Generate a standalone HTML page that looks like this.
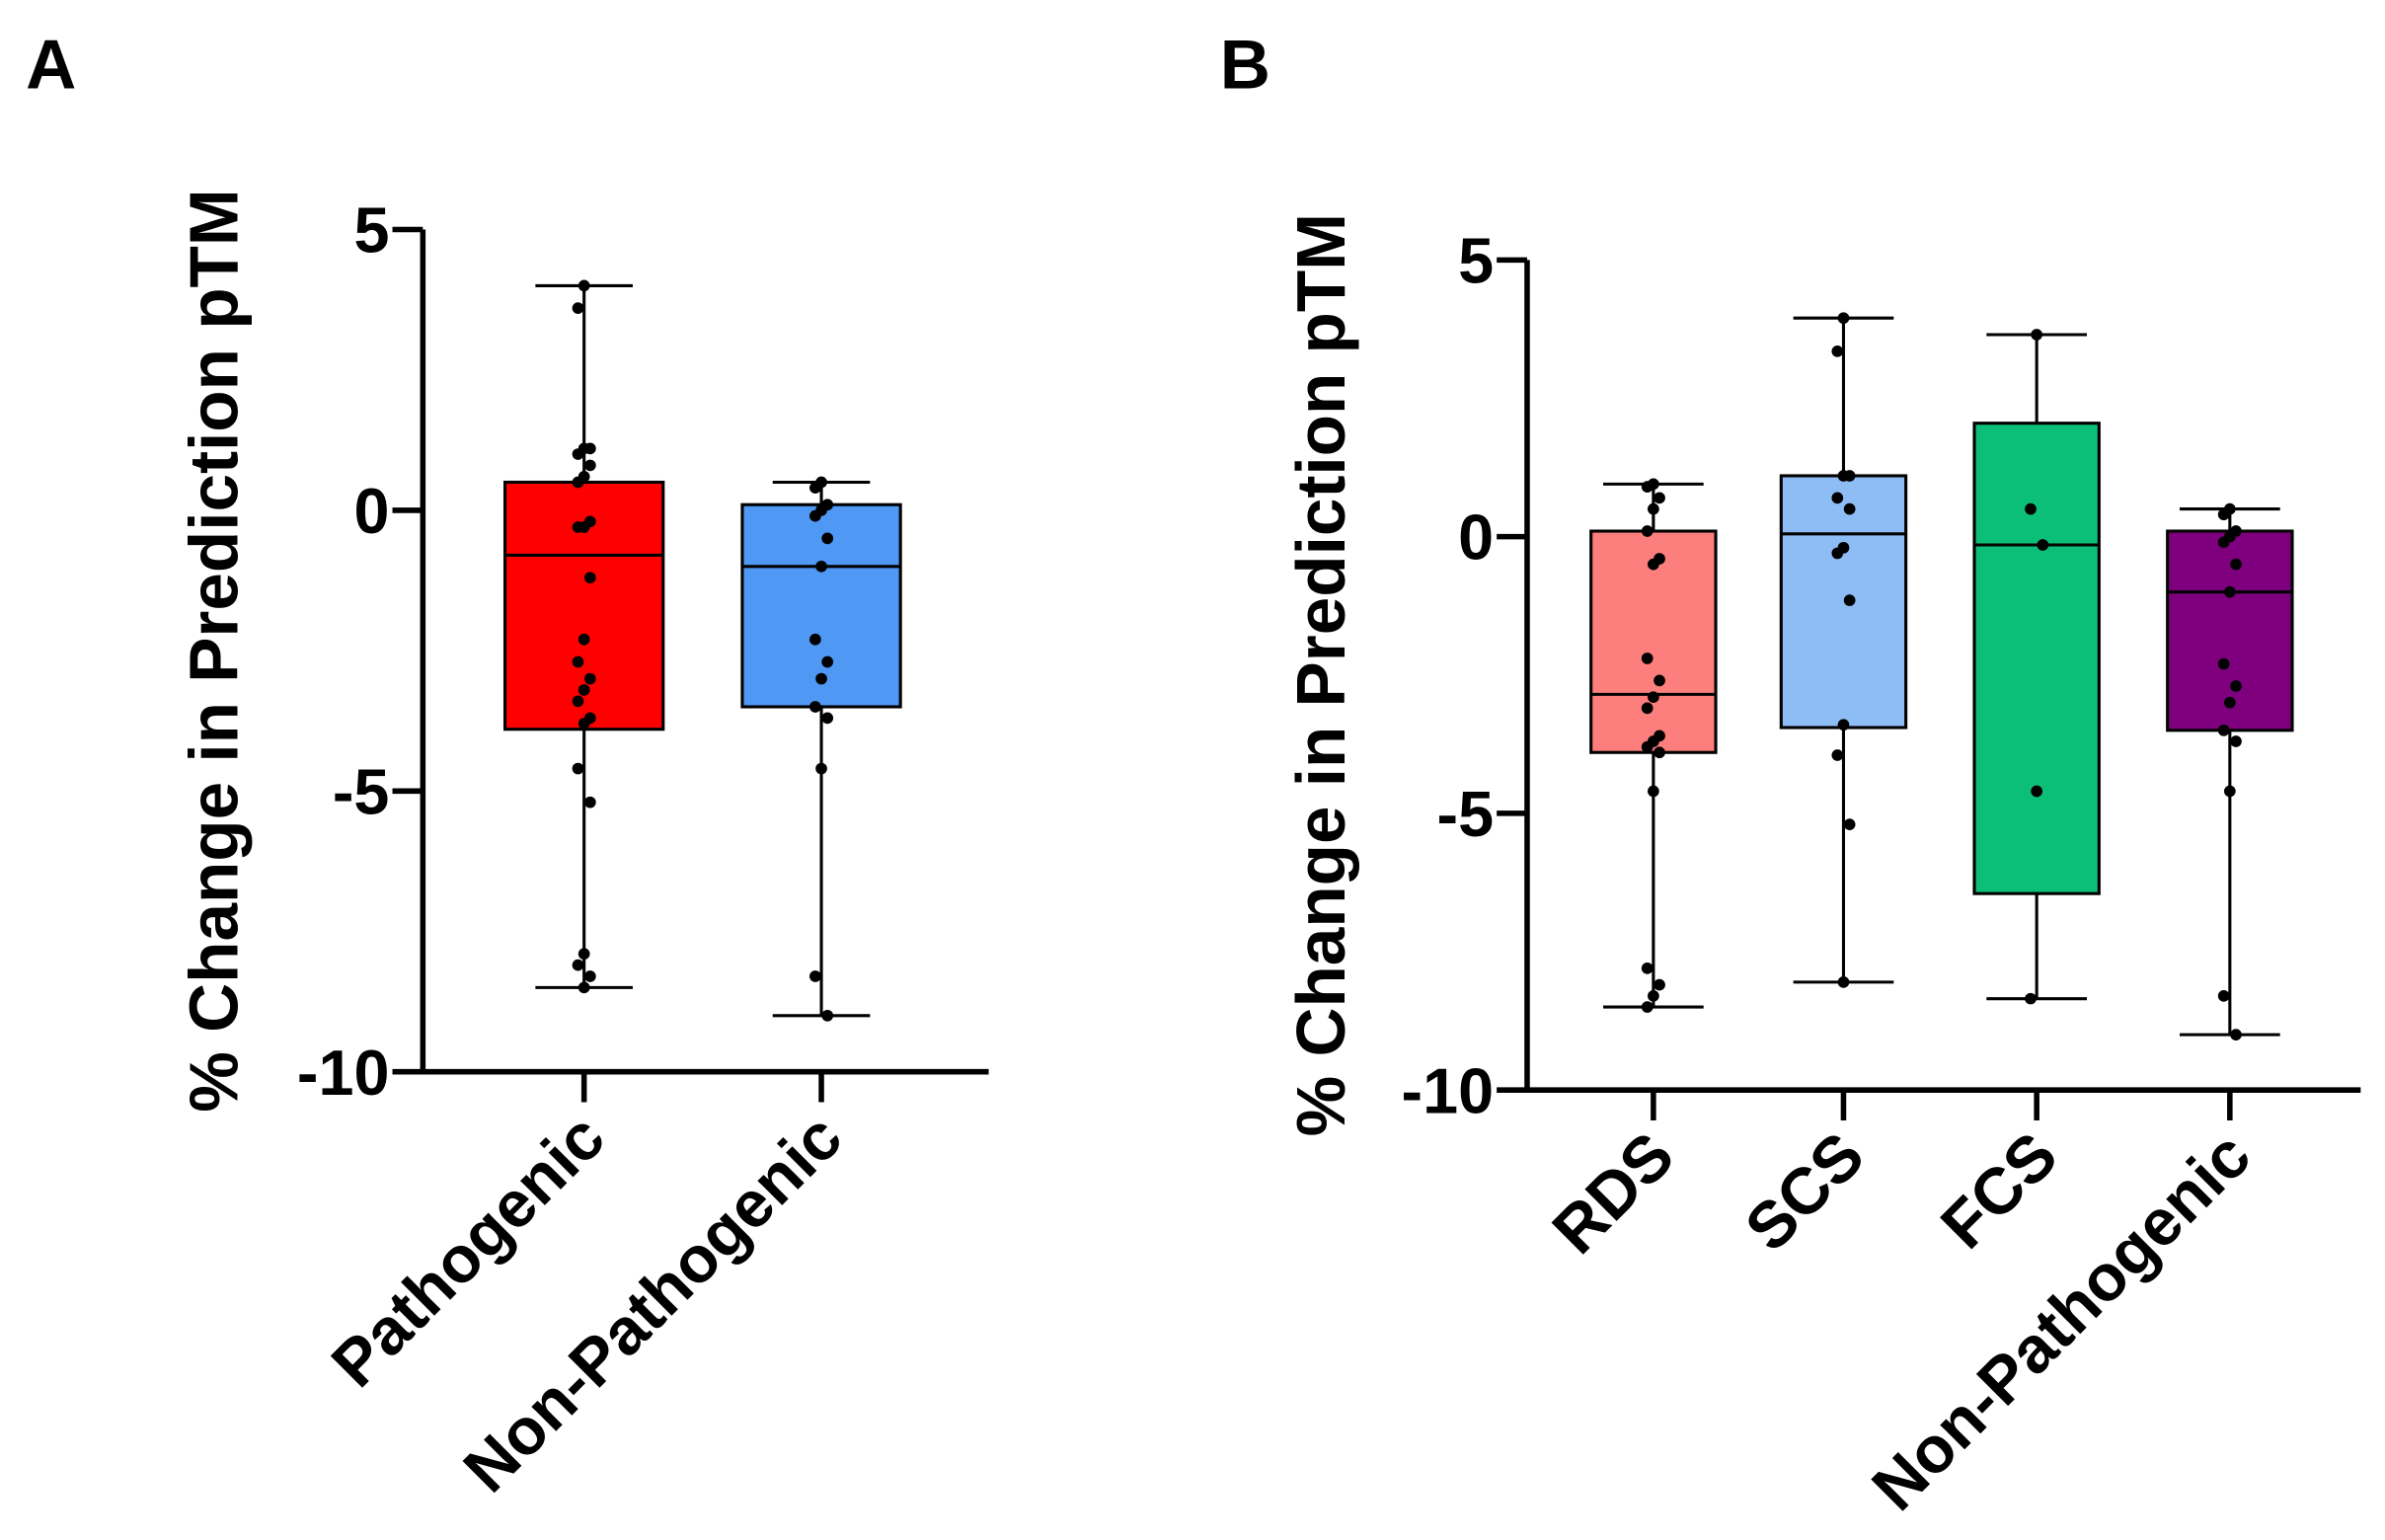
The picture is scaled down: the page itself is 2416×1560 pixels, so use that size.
<!DOCTYPE html>
<html><head><meta charset="utf-8"><style>
html,body{margin:0;padding:0;background:#fff}
svg{display:block}
text{font-family:"Liberation Sans",Arial,sans-serif;font-weight:bold;fill:#000}
</style></head><body>
<svg id="fig" width="2416" height="1560" viewBox="0 0 1568 1013" preserveAspectRatio="none" xmlns="http://www.w3.org/2000/svg">
<text x="17" y="58" font-size="46">A</text>
<text x="802" y="58" font-size="46">B</text>
<g id="pa"></g>
<g id="pb"></g>
</svg>
<script>
const yTicks=[5,0,-5,-10];
const catsA=["Pathogenic","Non-Pathogenic"];
const catsB=["RDS","SCS","FCS","Non-Pathogenic"];
const pathPts=[4.0,3.6,1.1,1.1,1.0,0.8,0.6,0.5,-0.2,-0.3,-0.3,-1.2,-2.3,-2.7,-3.0,-3.2,-3.4,-3.7,-3.8,-4.6,-5.2,-7.9,-8.1,-8.3,-8.5];
const nonPts=[0.5,0.4,0.1,0.0,-0.1,-0.5,-1.0,-2.3,-2.7,-3.0,-3.5,-3.7,-4.6,-8.3,-9.0];
const rdsPts=[0.95,0.9,0.7,0.5,0.1,-0.4,-0.5,-2.2,-2.6,-2.9,-3.1,-3.6,-3.7,-3.8,-3.9,-4.6,-7.8,-8.1,-8.3,-8.5];
const scsPts=[3.95,3.35,1.1,1.1,0.7,0.5,-0.2,-0.3,-1.15,-3.4,-3.95,-5.2,-8.05];
const fcsPts=[3.65,0.5,-0.15,-4.6,-8.35];
// box stats: [whiskerLow, Q1, median, Q3, whiskerHigh]
const statsA=[[-8.5,-3.9,-0.8,0.5,4.0],[-9.0,-3.5,-1.0,0.1,0.5]];
const statsB=[[-8.5,-3.9,-2.85,0.1,0.95],[-8.05,-3.45,0.05,1.1,3.95],[-8.35,-6.45,-0.15,2.05,3.65],[-9.0,-3.5,-1.0,0.1,0.5]];
const colorsA=["#ff0000","#4f98f4"];
const colorsB=["#fd7f7d","#8ebcf5","#0cbf78","#7f007f"];
const NS="http://www.w3.org/2000/svg";
function mk(p,tag,at){const e=document.createElementNS(NS,tag);for(const k in at)e.setAttribute(k,at[k]);p.appendChild(e);return e;}
function panel(g,cfg,cats,stats,pts,colors){
  const y=v=>cfg.y0+(v-(-10))/15*(cfg.y5-cfg.y0);
  const x=i=>cfg.cx[i];
  const ax=mk(g,'path',{d:`M${cfg.ax} ${cfg.y5} V${cfg.y0} H${cfg.xend}`,stroke:'#000','stroke-width':3.6,fill:'none'});
  
  
  yTicks.forEach(t=>{
    const l=mk(g,'line',{x1:cfg.ax-20,x2:cfg.ax,y1:y(t),y2:y(t),stroke:'#000','stroke-width':3.6});
    
    
    const tx=mk(g,'text',{x:cfg.ax-22,y:y(t)+15,'font-size':42,'text-anchor':'end'});
    tx.textContent=t;
    
    
  });
  const cy=(cfg.y5+cfg.y0)/2;
  const ti=mk(g,'text',{x:0,y:0,'font-size':45,'text-anchor':'middle',transform:`translate(${cfg.titleX},${cy}) rotate(-90)`});
  ti.textContent='% Change in Prediction pTM';
  
  
  cats.forEach((c,i)=>{
    const s=stats[i],hw=cfg.hw,cx=x(i);
    const tk=mk(g,'line',{x1:cx,x2:cx,y1:cfg.y0,y2:cfg.y0+20,stroke:'#000','stroke-width':3.6});
    
    
    const lb=mk(g,'text',{x:0,y:0,'font-size':43,'text-anchor':'end',transform:`translate(${cx+16},${cfg.y0+46}) rotate(-45)`});
    lb.textContent=c;
    
    
    const wh=mk(g,'path',{d:`M${cx} ${y(s[0])} V${y(s[4])} M${cx-cfg.cap} ${y(s[0])} H${cx+cfg.cap} M${cx-cfg.cap} ${y(s[4])} H${cx+cfg.cap}`,stroke:'#000','stroke-width':2});
    
    
    const bx=mk(g,'rect',{x:cx-hw,y:y(s[3]),width:2*hw,height:y(s[1])-y(s[3]),fill:colors[i],stroke:'#000','stroke-width':2});
    
    
    const md=mk(g,'line',{x1:cx-hw,x2:cx+hw,y1:y(s[2]),y2:y(s[2]),stroke:'#000','stroke-width':2});
    
    
    pts[i].forEach((v,j)=>{
      const off=(j%3===0?0:(j%3===1?-4:4));
      const d=mk(g,'circle',{cx:cx+off,cy:y(v),r:3.8,fill:'#000'});
      
      
    });
  });
}
panel(document.getElementById('pa'),{ax:278,y5:151,y0:705,xend:650,cx:[384,540],hw:52,cap:32,titleX:156},catsA,statsA,[pathPts,nonPts],colorsA);
panel(document.getElementById('pb'),{ax:1004,y5:171,y0:717,xend:1552,cx:[1087,1212,1339,1466],hw:41,cap:33,titleX:884},catsB,statsB,[rdsPts,scsPts,fcsPts,nonPts],colorsB);
</script>
</body></html>
